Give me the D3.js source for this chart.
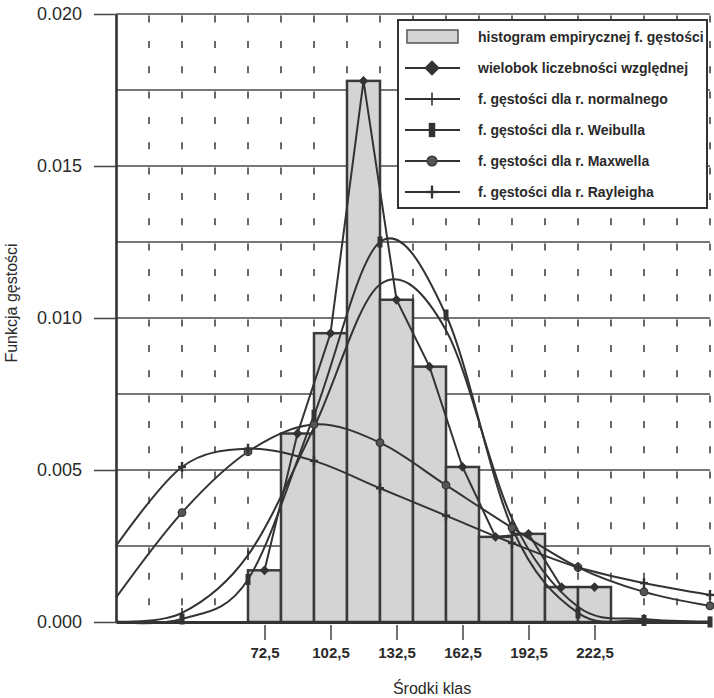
<!DOCTYPE html>
<html>
<head>
<meta charset="utf-8">
<script src="https://cdn.jsdelivr.net/npm/d3@7"></script>
<style>
body { margin: 0; background: #fff; }
svg { display: block; font-family: "Liberation Sans", Arial, sans-serif; }
</style>
</head>
<body>
<script>
// histogram (class mids and relative frequency density)
const classMids = [72.5, 87.5, 102.5, 117.5, 132.5, 147.5, 162.5, 177.5, 192.5, 207.5, 222.5]
const histValues = [0.0017, 0.0062, 0.0095, 0.0178, 0.0106, 0.0084, 0.0051, 0.0028, 0.0029, 0.00115, 0.00115]

// fitted density curves, read at x = 5, 35, ... 275
const curveX = [5, 35, 65, 95, 125, 155, 185, 215, 245, 275]
const normalVals = [0.00002, 0.0003, 0.0022, 0.0064, 0.0111, 0.0096, 0.0034, 0.0005, 0.0001, 0.00002]
const weibullVals = [0, 0.0001, 0.0014, 0.0068, 0.0125, 0.0101, 0.0031, 0.0003, 0.00005, 0]
const maxwellVals = [0.0008, 0.0036, 0.0056, 0.0065, 0.0059, 0.0045, 0.0031, 0.0018, 0.00099, 0.00053]
const rayleighVals = [0.0025, 0.0051, 0.0057, 0.0053, 0.0044, 0.0035, 0.0026, 0.0018, 0.00128, 0.00089]

const yTicks = [0, 0.005, 0.010, 0.015, 0.020]
const xTickValues = [72.5, 102.5, 132.5, 162.5, 192.5, 222.5]
const xTickLabels = ['72,5', '102,5', '132,5', '162,5', '192,5', '222,5']

const legendLabels = [
    'histogram empirycznej f. gęstości',
    'wielobok liczebności względnej',
    'f. gęstości dla r. normalnego',
    'f. gęstości dla r. Weibulla',
    'f. gęstości dla r. Maxwella',
    'f. gęstości dla r. Rayleigha'
]

const W = 714, H = 698
const plotLeft = 116, plotRight = 710, plotTop = 14, plotBottom = 622
const ink = '#333'

const svg = d3.select('body').append('svg').attr('width', W).attr('height', H)

const x = d3.scaleLinear().domain([5, 275]).range([plotLeft, plotRight])
const y = d3.scaleLinear().domain([0, 0.02]).range([plotBottom, plotTop])

// grid: solid horizontal lines every 0.0025, dashed verticals at class edges
svg.append('g').selectAll('line')
    .data(d3.range(1, 9).map(i => i * 0.0025))
    .enter().append('line')
    .attr('x1', plotLeft).attr('x2', plotRight)
    .attr('y1', d => y(d)).attr('y2', d => y(d))
    .attr('stroke', '#4a4a4a').attr('stroke-width', 1.6)

svg.append('g').selectAll('line')
    .data(d3.range(20, 276, 15))
    .enter().append('line')
    .attr('x1', d => x(d)).attr('x2', d => x(d))
    .attr('y1', plotTop).attr('y2', plotBottom)
    .attr('stroke', '#444').attr('stroke-width', 1.6)
    .attr('stroke-dasharray', '7 18.33')
    .attr('stroke-dashoffset', -1.6)

// histogram bars
svg.append('g').selectAll('rect')
    .data(classMids)
    .enter().append('rect')
    .attr('x', d => x(d - 7.5))
    .attr('width', d => x(d + 7.5) - x(d - 7.5))
    .attr('y', (d, i) => y(histValues[i]))
    .attr('height', (d, i) => y(0) - y(histValues[i]))
    .attr('fill', '#d4d4d4')
    .attr('stroke', '#3a3a3a').attr('stroke-width', 2.5)

// smooth density curves
let smooth = d3.line()
    .x((d, i) => x(curveX[i]))
    .y(d => y(d))
    .curve(d3.curveCardinal.tension(0))

let series = [
    { vals: normalVals, mark: 'normal' },
    { vals: weibullVals, mark: 'weibull' },
    { vals: maxwellVals, mark: 'maxwell' },
    { vals: rayleighVals, mark: 'rayleigh' }
]

let drawMarker = (g, type, px, py, big) => {
    let s = big ? 1.3 : 1
    if (type == 'normal') {
        g.append('line').attr('x1', px).attr('x2', px).attr('y1', py - 5 * s).attr('y2', py + 5 * s)
            .attr('stroke', ink).attr('stroke-width', 1.6)
    } else if (type == 'weibull') {
        g.append('rect').attr('x', px - 2.5 * s).attr('y', py - 5.5 * s)
            .attr('width', 5 * s).attr('height', 11 * s).attr('fill', ink)
    } else if (type == 'maxwell') {
        g.append('circle').attr('cx', px).attr('cy', py).attr('r', 3.8 * s)
            .attr('fill', '#555').attr('stroke', ink).attr('stroke-width', 1.2)
    } else if (type == 'rayleigh') {
        g.append('line').attr('x1', px).attr('x2', px).attr('y1', py - 5 * s).attr('y2', py + 5 * s)
            .attr('stroke', ink).attr('stroke-width', 2.4)
        g.append('line').attr('x1', px - 4 * s).attr('x2', px + 4 * s).attr('y1', py).attr('y2', py)
            .attr('stroke', ink).attr('stroke-width', 2.4)
    } else if (type == 'diamond') {
        g.append('path').attr('d', d3.symbol(d3.symbolSquare, big ? 120 : 48)())
            .attr('transform', `translate(${px},${py}) rotate(45)`)
            .attr('fill', ink)
    }
}

let curves = svg.append('g')
series.forEach(s => {
    curves.append('path')
        .attr('d', smooth(s.vals))
        .attr('fill', 'none')
        .attr('stroke', ink).attr('stroke-width', 2)
    s.vals.forEach((v, i) => {
        if (i > 0) drawMarker(curves, s.mark, x(curveX[i]), y(v), false)
    })
})

// frequency polygon
svg.append('path')
    .attr('d', d3.line().x(d => x(d)).y((d, i) => y(histValues[i]))(classMids))
    .attr('fill', 'none').attr('stroke', ink).attr('stroke-width', 2)
let poly = svg.append('g')
classMids.forEach((d, i) => drawMarker(poly, 'diamond', x(d), y(histValues[i]), false))

// axes
const yAxis = svg.append('g').attr('transform', `translate(${plotLeft},0)`)
    .call(d3.axisLeft(y).tickValues(yTicks).tickFormat(d3.format('.3f'))
        .tickSize(22).tickSizeOuter(0).tickPadding(12))
yAxis.select('.domain').attr('stroke', ink).attr('stroke-width', 2.6)
yAxis.selectAll('.tick line').attr('stroke', '#444').attr('stroke-width', 1.5)
yAxis.selectAll('text').attr('font-family', '"Liberation Sans", Arial, sans-serif')
    .attr('font-size', 18).attr('fill', '#2a2a2a')

const xAxis = svg.append('g').attr('transform', `translate(0,${plotBottom})`)
    .call(d3.axisBottom(x).tickValues(xTickValues).tickFormat((d, i) => xTickLabels[i])
        .tickSize(18).tickSizeOuter(0).tickPadding(7))
xAxis.select('.domain').attr('stroke', ink).attr('stroke-width', 3)
xAxis.selectAll('.tick line').attr('stroke', '#444').attr('stroke-width', 1.5)
    .attr('y1', 3)
xAxis.selectAll('text').attr('font-family', '"Liberation Sans", Arial, sans-serif')
    .attr('font-size', 15).attr('font-weight', 'bold').attr('fill', '#2a2a2a')

// axis titles
svg.append('text')
    .attr('x', 432).attr('y', 694)
    .attr('text-anchor', 'middle')
    .attr('font-size', 16).attr('fill', '#2a2a2a')
    .text('Środki klas')

svg.append('text')
    .attr('transform', 'translate(17,303) rotate(-90)')
    .attr('text-anchor', 'middle')
    .attr('font-size', 16).attr('fill', '#2a2a2a')
    .text('Funkcja gęstości')

// legend
const legend = svg.append('g')
legend.append('rect')
    .attr('x', 398).attr('y', 20).attr('width', 309).attr('height', 188)
    .attr('fill', '#fff').attr('stroke', ink).attr('stroke-width', 2)

let legendMarks = ['hist', 'diamond', 'normal', 'weibull', 'maxwell', 'rayleigh']
legendLabels.forEach((label, i) => {
    let cy = 37 + i * 31
    if (legendMarks[i] == 'hist') {
        legend.append('rect').attr('x', 407).attr('y', cy - 7).attr('width', 51).attr('height', 13)
            .attr('fill', '#d4d4d4').attr('stroke', '#555').attr('stroke-width', 1.5)
    } else {
        legend.append('line').attr('x1', 405).attr('x2', 460).attr('y1', cy).attr('y2', cy)
            .attr('stroke', ink).attr('stroke-width', 2)
        drawMarker(legend, legendMarks[i], 432, cy, true)
    }
    legend.append('text')
        .attr('x', 478).attr('y', cy + 5)
        .attr('font-size', 14).attr('font-weight', 'bold').attr('fill', '#2a2a2a')
        .text(label)
})
</script>
</body>
</html>
